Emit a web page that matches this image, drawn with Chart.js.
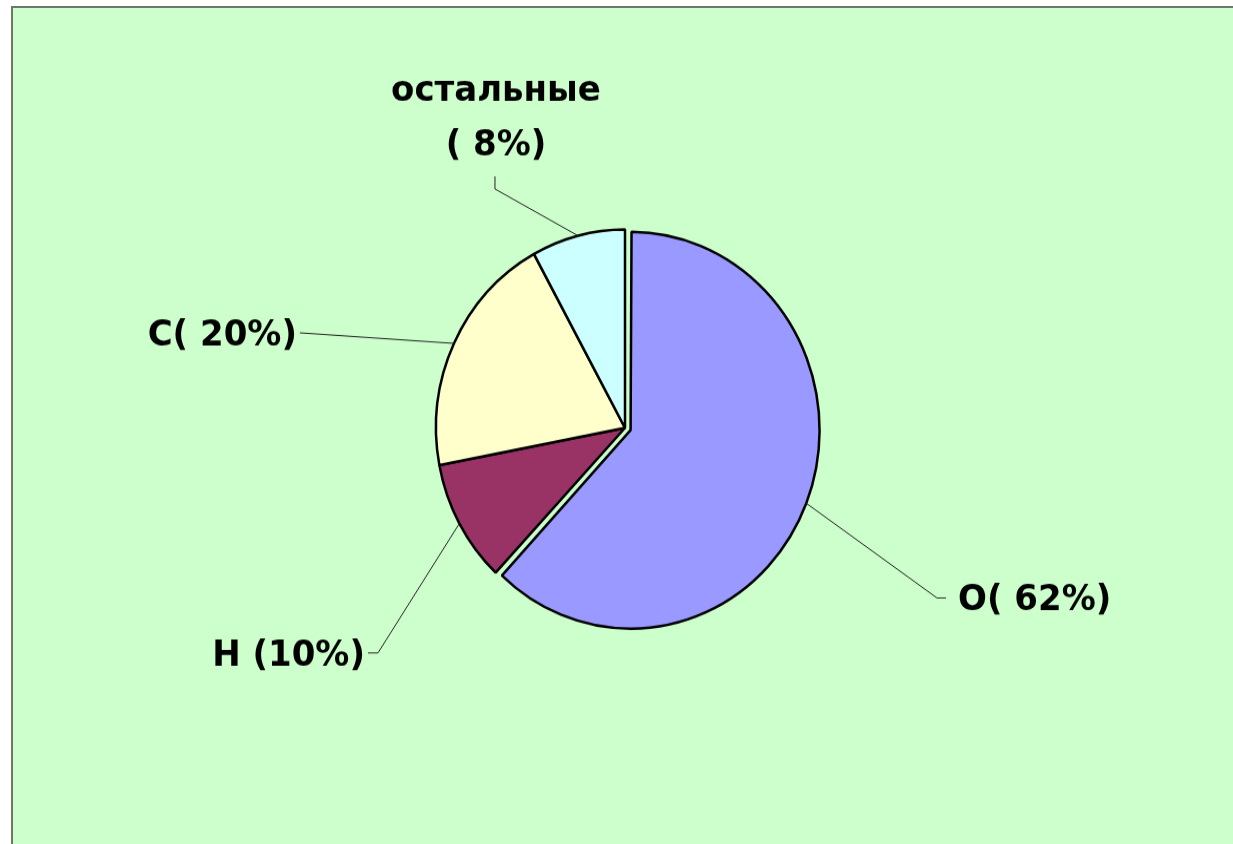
<!DOCTYPE html>
<html lang="ru">
<head>
  <meta charset="UTF-8" />
  <title>Состав</title>
  <script src="https://cdn.jsdelivr.net/npm/chart.js"></script>
  <style>
    html, body {
      margin: 0;
      padding: 0;
      overflow: hidden;
    }
    body {
      width: 1233px;
      height: 844px;
      position: relative;
      background: linear-gradient(#6b786b, #6b786b) 11px 6px / 1240px 2px no-repeat,
                  linear-gradient(#6b786b, #6b786b) 11px 6px / 2px 860px no-repeat,
                  linear-gradient(#ccffcc, #ccffcc) 13px 8px / 1240px 860px no-repeat,
                  #fff;
    }
    .wrap {
      position: absolute;
      left: 0;
      top: 0;
      width: 1233px;
      height: 804px;
      transform: scaleY(1.05);
      transform-origin: 0 0;
    }
  </style>
</head>
<body>
  <div class="wrap">
    <canvas id="pieChart"></canvas>
  </div>

  <script>
    // data
    const elements = ["O", "H", "C", "остальные"];
    const shares = [62, 10, 20, 8];
    const labelTexts = [["O( 62%)"], ["H (10%)"], ["C( 20%)"], ["остальные", "( 8%)"]];
    const sliceColors = ["#9999ff", "#993366", "#ffffcc", "#ccffff"];

    // where each label's leader line bends (in pie radii from the centre) and its short tail
    const labelLayout = [
      { elbow: [1.651, 0.857], tail: [9, 0], align: "left" },
      { elbow: [-1.307, 1.134], tail: [-10, 0], align: "right" },
      { elbow: [-1.720, -0.479], tail: [0, 0], align: "right" },
      { elbow: [-0.688, -1.204], tail: [0, -12], align: "center" }
    ];

    const labelFont = "bold 34px 'DejaVu Sans', Verdana, sans-serif";

    // chart.js grows an exploded slice by the same amount it shifts it; undo the growth
    const keepRadius = {
      id: "keepRadius",
      afterDatasetUpdate(chart, args) {
        args.meta.data.forEach(arc => {
          const o = (arc.options.offset || 0) / 4;
          const fix = 1 - Math.sin(Math.min(Math.PI, arc.circumference || 0));
          arc.outerRadius -= o * fix;
        });
      }
    };

    const sliceLabels = {
      id: "sliceLabels",
      afterDatasetsDraw(chart) {
        const ctx = chart.ctx;
        const meta = chart.getDatasetMeta(0);
        const R = meta.controller.outerRadius;
        meta.data.forEach((arc, i) => {
          const p = arc.getProps(["x", "y", "startAngle", "endAngle"], true);
          const mid = (p.startAngle + p.endAngle) / 2;
          const o = (arc.options.offset || 0) / 4;
          const ax = p.x + Math.cos(mid) * (o + R);
          const ay = p.y + Math.sin(mid) * (o + R);

          const lay = labelLayout[i];
          const ex = p.x + lay.elbow[0] * R;
          const ey = p.y + lay.elbow[1] * R;
          const tx = ex + lay.tail[0];
          const ty = ey + lay.tail[1];

          ctx.save();
          ctx.strokeStyle = "#222";
          ctx.lineWidth = 1;
          ctx.beginPath();
          ctx.moveTo(ax, ay);
          ctx.lineTo(ex, ey);
          ctx.lineTo(tx, ty);
          ctx.stroke();

          ctx.font = labelFont;
          ctx.fillStyle = "#000";
          ctx.textAlign = lay.align;
          ctx.textBaseline = "alphabetic";
          const lines = labelTexts[i];
          if (lay.align === "center") {
            // stacked label above the tail
            let base = ty - 20;
            for (let k = lines.length - 1; k >= 0; k--) {
              ctx.fillText(lines[k], tx + 1, base);
              base -= 52;
            }
          } else {
            const gap = lay.align === "left" ? 12 : -3;
            ctx.fillText(lines[0], tx + gap, ty + 12);
          }
          ctx.restore();
        });
      }
    };

    new Chart(document.getElementById("pieChart"), {
      type: "pie",
      data: {
        labels: elements,
        datasets: [{
          data: shares,
          backgroundColor: sliceColors,
          borderColor: "#000",
          borderWidth: 2.5,
          offset: [24, 0, 0, 0],
          radius: 189
        }]
      },
      options: {
        responsive: true,
        maintainAspectRatio: false,
        animation: false,
        layout: {
          padding: { left: 117, right: 100, top: 111, bottom: 100 }
        },
        plugins: {
          legend: { display: false },
          tooltip: { enabled: false }
        }
      },
      plugins: [keepRadius, sliceLabels]
    });
  </script>
</body>
</html>
